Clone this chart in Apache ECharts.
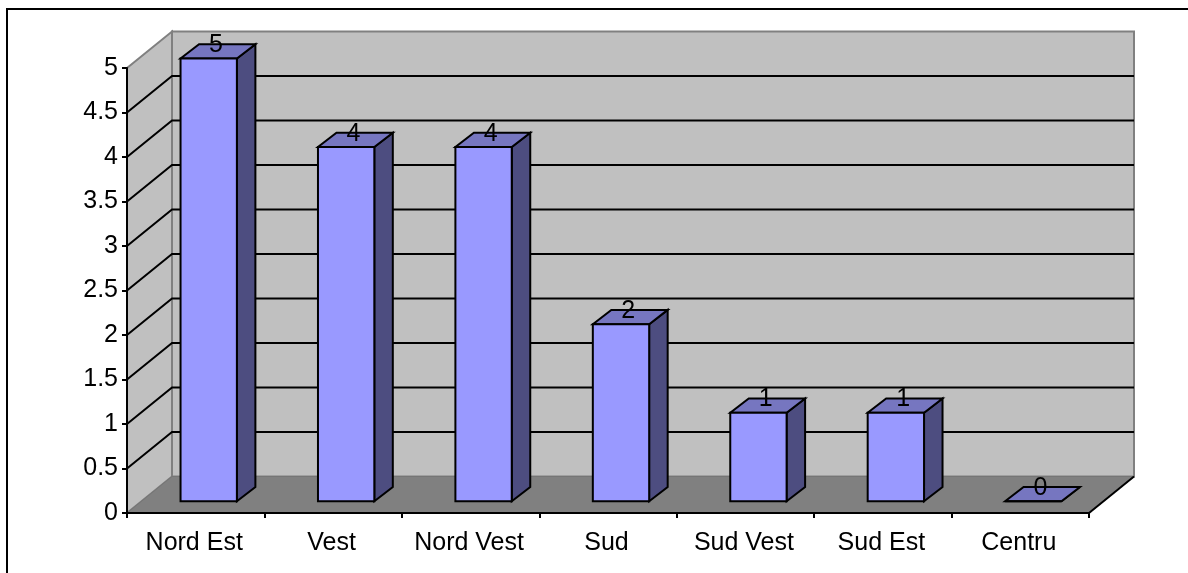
<!DOCTYPE html>
<html>
<head>
<meta charset="utf-8">
<style>
  html, body { margin: 0; padding: 0; background: #fff; }
  #chart { width: 1188px; height: 573px; }
</style>
<script src="https://cdn.jsdelivr.net/npm/echarts@6/dist/echarts.min.js"></script>
</head>
<body>
<div id="chart"></div>
<script>
const categories = ['Nord Est', 'Vest', 'Nord Vest', 'Sud', 'Sud Vest', 'Sud Est', 'Centru'];
const values = [5, 4, 4, 2, 1, 1, 0];
const gridValues = [0.5, 1, 1.5, 2, 2.5, 3, 3.5, 4, 4.5];

// 3d look, in pixels
const depthX = 45;
const depthY = -36.5;
const barShiftX = 13;
const barShiftY = -11.7;
const barDepthX = 18.5;
const barDepthY = -14.3;
const barWidthRatio = 0.41;
const barScale = 0.995;

const myChart = echarts.init(document.getElementById('chart'));

function poly(points, fill, stroke, lineWidth) {
  return {
    type: 'polygon',
    shape: { points: points },
    style: { fill: fill, stroke: stroke, lineWidth: lineWidth, lineJoin: 'miter' },
  };
}

function renderWalls(params) {
  const r = params.coordSys;
  const x0 = r.x, x1 = r.x + r.width, y0 = r.y, y1 = r.y + r.height;
  return {
    type: 'group',
    children: [
      poly([[x0 + depthX, y0 + depthY], [x1 + depthX, y0 + depthY], [x1 + depthX, y1 + depthY], [x0 + depthX, y1 + depthY]], '#c0c0c0', '#808080', 2),
      poly([[x0, y0], [x0 + depthX, y0 + depthY], [x0 + depthX, y1 + depthY], [x0, y1]], '#c0c0c0', '#808080', 2),
      poly([[x0, y1], [x0 + depthX, y1 + depthY], [x1 + depthX, y1 + depthY], [x1, y1]], '#808080', '#757575', 1),
      {
        type: 'line',
        shape: { x1: x1, y1: y1, x2: x1 + depthX, y2: y1 + depthY },
        style: { stroke: '#000', lineWidth: 2 },
      },
    ],
  };
}

function renderGridLine(params, api) {
  const r = params.coordSys;
  const y = api.coord([0, api.value(0)])[1];
  return {
    type: 'polyline',
    shape: { points: [[r.x, y], [r.x + depthX, y + depthY], [r.x + r.width + depthX, y + depthY]] },
    style: { fill: null, stroke: '#000', lineWidth: 2 },
  };
}

function renderBar(params, api) {
  const center = api.coord([api.value(0), 0]);
  const band = api.size([1, 0])[0];
  const w = band * barWidthRatio;
  const left = center[0] + barShiftX - w / 2;
  const right = left + w;
  const bottom = center[1] + barShiftY;
  const h = (center[1] - api.coord([api.value(0), api.value(1)])[1]) * barScale;
  const top = bottom - h;
  const black = '#000';
  return {
    type: 'group',
    children: [
      poly([[right, bottom], [right + barDepthX, bottom + barDepthY], [right + barDepthX, top + barDepthY], [right, top]], '#4d4d80', black, 2),
      poly([[left, top], [right, top], [right + barDepthX, top + barDepthY], [left + barDepthX, top + barDepthY]], '#7676c0', black, 2),
      poly([[left, top], [right, top], [right, bottom], [left, bottom]], '#9999ff', black, 2),
      {
        type: 'text',
        style: {
          text: String(api.value(1)),
          x: (left + right) / 2 + barDepthX / 2 - 2,
          y: top + barDepthY / 2 - 6,
          align: 'center',
          verticalAlign: 'middle',
          fill: '#000',
          font: '25px "Liberation Sans"',
        },
      },
    ],
  };
}

const option = {
  animation: false,
  backgroundColor: '#fff',
  textStyle: { fontFamily: 'Liberation Sans' },
  graphic: [
    {
      type: 'rect',
      silent: true,
      shape: { x: 7, y: 9, width: 1400, height: 800 },
      style: { fill: null, stroke: '#000', lineWidth: 2 },
    },
  ],
  grid: { left: 127, top: 68, width: 962, height: 445 },
  xAxis: {
    type: 'category',
    data: categories,
    z: 5,
    axisLine: { show: true, lineStyle: { color: '#000', width: 2 } },
    axisTick: { show: true, alignWithLabel: false, length: 5, lineStyle: { color: '#000', width: 2 } },
    axisLabel: { color: '#000', fontSize: 25, margin: 18, interval: 0, padding: [0, 3, 0, 0] },
    splitLine: { show: false },
  },
  yAxis: {
    type: 'value',
    min: 0,
    max: 5,
    interval: 0.5,
    z: 5,
    axisLine: { show: true, lineStyle: { color: '#000', width: 2 } },
    axisTick: { show: true, length: 5, lineStyle: { color: '#000', width: 2 } },
    axisLabel: { color: '#000', fontSize: 25, margin: 9, padding: [2, 0, 0, 0] },
    splitLine: { show: false },
  },
  series: [
    { type: 'custom', name: 'pereti', renderItem: renderWalls, data: [[0]], silent: true, clip: false, z: 1 },
    { type: 'custom', name: 'grila', renderItem: renderGridLine, data: gridValues.map((v) => [v]), encode: { y: 0 }, silent: true, clip: false, z: 2 },
    {
      type: 'custom',
      name: 'valori',
      renderItem: renderBar,
      data: values.map((v, i) => [i, v]),
      encode: { x: 0, y: 1 },
      clip: false,
      z: 3,
    },
  ],
};

myChart.setOption(option);

window.onresize = () => {
  myChart.resize();
};
</script>
</body>
</html>
